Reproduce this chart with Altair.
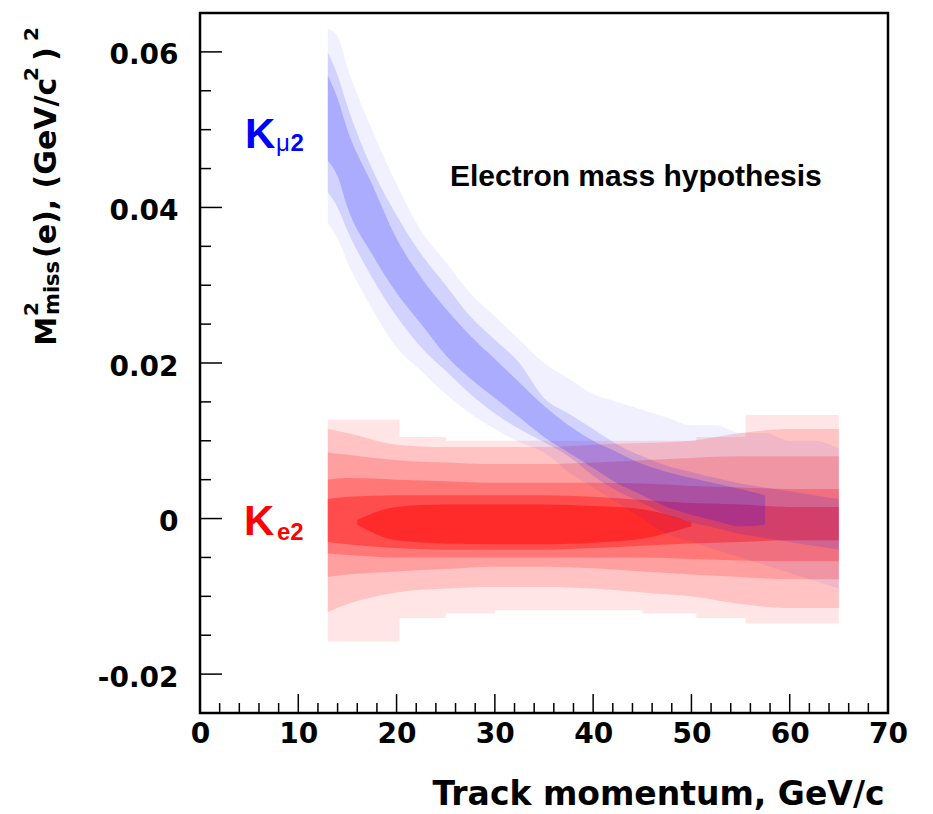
import altair as alt
import pandas as pd

# ---------------- data ----------------
# Ke2 (red) population: density contours of the point cloud, by track momentum (GeV/c)
RED_OUT_P   = [13, 20.3, 25, 30, 35, 40, 45, 50.5, 55.5, 65]
RED_OUT_TOP = [0.0127, 0.0105, 0.0100, 0.0100, 0.0100, 0.0100, 0.0100, 0.0105, 0.0133, 0.0133]
RED_OUT_BOT = [-0.0158, -0.0128, -0.0122, -0.0118, -0.0118, -0.0118, -0.0122, -0.0128, -0.0135, -0.0135]

RED_P = [13, 15, 20, 25, 30, 35, 40, 45, 50, 55, 60, 65]
RED_L2_TOP = [0.0115, 0.0110, 0.0095, 0.0092, 0.0092, 0.0092, 0.0095, 0.0097, 0.0100, 0.0110, 0.0115, 0.0115]
RED_L2_BOT = [-0.0120, -0.0110, -0.0095, -0.0090, -0.0088, -0.0088, -0.0090, -0.0095, -0.0100, -0.0110, -0.0115, -0.0115]
RED_L3_TOP = [0.0085, 0.0082, 0.0075, 0.0072, 0.0070, 0.0070, 0.0072, 0.0075, 0.0078, 0.0080, 0.0080, 0.0080]
RED_L3_BOT = [-0.0075, -0.0072, -0.0068, -0.0065, -0.0062, -0.0062, -0.0064, -0.0068, -0.0072, -0.0075, -0.0078, -0.0078]
RED_L4_TOP = [0.0050, 0.0052, 0.0050, 0.0048, 0.0046, 0.0046, 0.0046, 0.0045, 0.0042, 0.0040, 0.0038, 0.0038]
RED_L4_BOT = [-0.0045, -0.0047, -0.0050, -0.0050, -0.0050, -0.0050, -0.0050, -0.0050, -0.0052, -0.0054, -0.0055, -0.0055]
RED_L5_TOP = [0.0025, 0.0028, 0.0030, 0.0030, 0.0030, 0.0030, 0.0028, 0.0024, 0.0020, 0.0018, 0.0015, 0.0015]
RED_L5_BOT = [-0.0030, -0.0033, -0.0038, -0.0040, -0.0040, -0.0040, -0.0038, -0.0035, -0.0032, -0.0030, -0.0028, -0.0028]

RED_L6_P   = [16, 20, 25, 30, 35, 40, 45, 50]
RED_L6_TOP = [-0.0002, 0.0015, 0.0018, 0.0018, 0.0018, 0.0016, 0.0012, -0.0005]
RED_L6_BOT = [-0.0008, -0.0028, -0.0032, -0.0033, -0.0033, -0.0031, -0.0026, -0.0010]

# Kmu2 (blue) population
BLUE_P = [13, 14, 15, 17.5, 20, 22.5, 25, 27.5, 30, 32.5, 35, 37.5, 40, 42.5,
          45, 47.5, 50, 52.5, 55, 57.5, 60, 62.5, 65]
BLUE_OUT_TOP = [0.063, 0.062, 0.058, 0.050, 0.043, 0.037, 0.033, 0.029, 0.026, 0.023, 0.020,
                0.018, 0.016, 0.015, 0.014, 0.013, 0.012, 0.012, 0.011, 0.011, 0.010, 0.010, 0.009]
BLUE_OUT_BOT = [0.038, 0.036, 0.033, 0.027, 0.022, 0.019, 0.016, 0.0135, 0.0115, 0.0098, 0.0085,
                0.006, 0.004, 0.002, 0.000, -0.002, -0.003, -0.004, -0.005, -0.006, -0.007, -0.008, -0.009]
BLUE_MID_TOP = [0.060, 0.057, 0.053, 0.045, 0.039, 0.034, 0.030, 0.026, 0.023, 0.020, 0.0155,
                0.0135, 0.0115, 0.0095, 0.0080, 0.0068, 0.0060, 0.0052, 0.0045, 0.0040, 0.0035, 0.0030, 0.0025]
BLUE_MID_BOT = [0.042, 0.040, 0.037, 0.031, 0.026, 0.022, 0.019, 0.016, 0.0135, 0.0115, 0.0098,
                0.0080, 0.0055, 0.0035, 0.0020, 0.0005, -0.0005, -0.0012, -0.0020, -0.0025, -0.0030, -0.0035, -0.0040]

BLUE_CORE_P   = [13, 14, 15, 17.5, 20, 22.5, 25, 27.5, 30, 32.5, 35, 37.5, 40, 42.5, 45, 47.5,
                 50, 52.5, 55, 57.5]
BLUE_CORE_TOP = [0.057, 0.054, 0.050, 0.043, 0.036, 0.031, 0.027, 0.0235, 0.0205, 0.0175, 0.0145,
                 0.0120, 0.0100, 0.0085, 0.0070, 0.0060, 0.0052, 0.0045, 0.0038, 0.0030]
BLUE_CORE_BOT = [0.046, 0.044, 0.040, 0.034, 0.029, 0.025, 0.021, 0.018, 0.0155, 0.0130, 0.0105,
                 0.0085, 0.0065, 0.0045, 0.0030, 0.0015, 0.0005, -0.0003, -0.0010, -0.0008]

# axes
X_DOMAIN = [0, 70]
Y_DOMAIN = [-0.025, 0.065]
X_LABELS = [0, 10, 20, 30, 40, 50, 60, 70]
X_MAJOR = [10, 20, 30, 40, 50, 60]
X_MINOR = [2, 4, 6, 8, 12, 14, 16, 18, 22, 24, 26, 28, 32, 34, 36, 38, 42, 44, 46, 48,
           52, 54, 56, 58, 62, 64, 66, 68]
Y_LABELS = [-0.02, 0.0, 0.02, 0.04, 0.06]
Y_MINOR = [-0.015, -0.01, -0.005, 0.005, 0.01, 0.015, 0.025, 0.03, 0.035, 0.045, 0.05, 0.055]

W, H = 688, 700
xs = alt.Scale(domain=X_DOMAIN, nice=False, zero=False)
ys = alt.Scale(domain=Y_DOMAIN, nice=False, zero=False)

BOLD_WIDE = "DejaVu Sans"
HELV = "Liberation Sans"

XAX = alt.Axis(values=X_LABELS, ticks=False, tickSize=0, domain=False, grid=False,
               labelFont=BOLD_WIDE, labelFontWeight="bold", labelFontSize=28,
               labelColor="black", labelPadding=7, labelFlush=False, labelOverlap=False,
               title="Track momentum, GeV/c", titleFont=BOLD_WIDE, titleFontWeight="bold",
               titleFontSize=33, titleColor="black", titleX=684, titleY=91,
               titleAlign="right", titleBaseline="alphabetic", titleAngle=0)
YAX = alt.Axis(values=Y_LABELS, ticks=False, tickSize=0, domain=False, grid=False,
               labelFont=BOLD_WIDE, labelFontWeight="bold", labelFontSize=28,
               labelColor="black", labelPadding=22, labelFlush=False, labelOverlap=False,
               labelOffset=4,
               labelExpr="datum.value == 0 ? '0' : replace(format(datum.value, '.2f'), '\u2212', '-')",
               title=None)


def band(p, top, bot, color, opacity, interp):
    df = pd.DataFrame({"p": p, "top": top, "bot": bot})
    return alt.Chart(df).mark_area(color=color, opacity=opacity, interpolate=interp).encode(
        x=alt.X("p:Q", scale=xs, axis=XAX, title="Track momentum, GeV/c"),
        y=alt.Y("top:Q", scale=ys, axis=YAX, title=None),
        y2="bot:Q",
    )


layers = [
    band(RED_OUT_P, RED_OUT_TOP, RED_OUT_BOT, "#ff0000", 0.10, "step-after"),
    band(RED_P, RED_L2_TOP, RED_L2_BOT, "#ff0000", 0.15, "monotone"),
    band(RED_P, RED_L3_TOP, RED_L3_BOT, "#ff0000", 0.18, "monotone"),
    band(RED_P, RED_L4_TOP, RED_L4_BOT, "#ff0000", 0.25, "monotone"),
    band(RED_P, RED_L5_TOP, RED_L5_BOT, "#ff0000", 0.35, "monotone"),
    band(RED_L6_P, RED_L6_TOP, RED_L6_BOT, "#ff0000", 0.45, "monotone"),
    band(BLUE_P, BLUE_OUT_TOP, BLUE_OUT_BOT, "#0000ff", 0.06, "monotone"),
    band(BLUE_P, BLUE_MID_TOP, BLUE_MID_BOT, "#0000ff", 0.12, "monotone"),
    band(BLUE_CORE_P, BLUE_CORE_TOP, BLUE_CORE_BOT, "#0000ff", 0.18, "monotone"),
]


# inner ticks (ROOT style)
def xticks(vals, length):
    return alt.Chart(pd.DataFrame({"p": vals})).mark_rule(color="black", strokeWidth=1.5).encode(
        x=alt.X("p:Q", scale=xs, axis=XAX, title="Track momentum, GeV/c"),
        y=alt.value(H), y2=alt.value(H - length))


def yticks(vals, length):
    return alt.Chart(pd.DataFrame({"top": vals})).mark_rule(color="black", strokeWidth=1.5).encode(
        y=alt.Y("top:Q", scale=ys, axis=YAX, title=None),
        x=alt.value(0), x2=alt.value(length))


layers += [xticks(X_MAJOR, 19), xticks(X_MINOR, 10), yticks(Y_LABELS, 22), yticks(Y_MINOR, 11)]


def label(txt, x, y, size, color="black", font=HELV, weight="bold", angle=0, align="left"):
    kw = dict(fontSize=size, font=font, fontWeight=weight, color=color, align=align,
              baseline="alphabetic")
    if angle:
        kw["angle"] = angle
    return alt.Chart(pd.DataFrame({"t": [txt]})).mark_text(**kw).encode(
        text="t:N", x=alt.value(x), y=alt.value(y))


layers += [
    label("Electron mass hypothesis", 250, 173, 30),
    label("K", 45, 135, 42, color="#0000ff"),
    label("\u03bc", 76, 138, 24, color="#0000ff", weight="normal"),
    label("2", 90.5, 138, 24, color="#0000ff"),
    label("K", 44, 522, 42, color="#ff0000"),
    label("e2", 77, 527, 24, color="#ff0000"),
    # rotated y title: M^2_miss(e), (GeV/c^2)^2
    label("M", -144.5, 332.7, 29, font=BOLD_WIDE, angle=270),
    label("2", -162, 303, 20, font=BOLD_WIDE, angle=270),
    label("miss", -141, 302, 21, font=BOLD_WIDE, angle=270),
    label("(e), (GeV/c", -144.5, 245, 30, font=BOLD_WIDE, angle=270),
    label("2", -162, 68, 20, font=BOLD_WIDE, angle=270),
    label(")", -144.5, 48, 30, font=BOLD_WIDE, angle=270),
    label("2", -162, 28, 20, font=BOLD_WIDE, angle=270),
]

chart = alt.layer(*layers).properties(
    width=W, height=H,
    autosize=alt.AutoSizeParams(type="none"),
    padding={"left": 200, "top": 13, "right": 45, "bottom": 101},
    background="white",
).configure_view(stroke="black", strokeWidth=2.5)

chart.save("out.html", embed_options={"renderer": "svg", "actions": False})
